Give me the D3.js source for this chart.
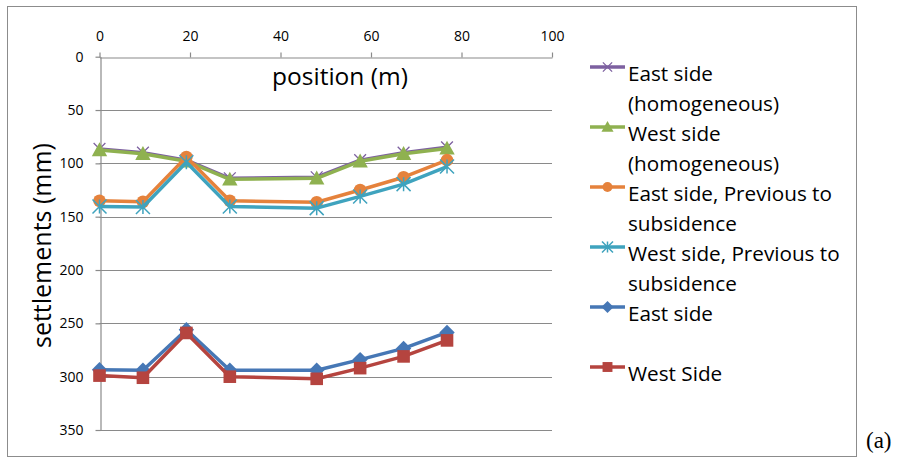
<!DOCTYPE html>
<html><head><meta charset="utf-8">
<script src="https://cdn.jsdelivr.net/npm/d3@7"></script>
<style>body{margin:0;background:#fff}svg{display:block}</style>
</head><body>
<script>
const positions = [0, 9.6, 19.2, 28.8, 48, 57.6, 67.2, 76.8];
const eastHomogeneous = [86.5, 90, 97, 114, 113, 97, 90, 85];
const westHomogeneous = [87.5, 91, 98, 115, 114, 98, 91, 86];
const eastPrevious = [135, 136, 94, 135, 136.5, 125, 113, 97];
const westPrevious = [140.5, 141, 99, 140.5, 142, 131, 119.5, 103];
const eastSide = [293.5, 294, 256, 294, 294, 284, 273.5, 258.5];
const westSide = [299, 301, 259, 300, 302, 292, 281, 266];
const xTicks = [0, 20, 40, 60, 80, 100];
const yTicks = [0, 50, 100, 150, 200, 250, 300, 350];
const seriesNames = [["East side", "(homogeneous)"], ["West side", "(homogeneous)"], ["East side, Previous to", "subsidence"], ["West side, Previous to", "subsidence"], ["East side"], ["West Side"]];
const seriesColors = ["#7D60A0", "#8FB150", "#E5823C", "#3FA3BE", "#4677B5", "#B5443F"];
const seriesMarkers = ["x", "triangle", "circle", "star", "diamond", "square"];
const seriesValues = [eastHomogeneous, westHomogeneous, eastPrevious, westPrevious, eastSide, westSide];

const W = 901, H = 461;
const svg = d3.select("body").append("svg").attr("width", W).attr("height", H);
const font = "'Open Sans', Lato, sans-serif";

svg.append("rect").attr("x", 7.5).attr("y", 6.5).attr("width", 849).attr("height", 450)
  .attr("fill", "#fff").attr("stroke", "#8c8c8c").attr("stroke-width", 1);

const x = d3.scaleLinear().domain([0, 100]).range([99.5, 552]);
const y = d3.scaleLinear().domain([0, 350]).range([56.7, 430]);

// gridlines
svg.append("g").selectAll("line").data(yTicks.slice(1)).join("line")
  .attr("x1", x(0)).attr("x2", x(100)).attr("y1", d => Math.round(y(d)) + 0.5).attr("y2", d => Math.round(y(d)) + 0.5)
  .attr("stroke", "#8a8a8a").attr("stroke-width", 1.2);

// top x axis
const xAxis = svg.append("g").attr("transform", `translate(0,${Math.round(y(0)) + 0.5})`)
  .call(d3.axisTop(x).tickValues(xTicks).tickSize(5).tickPadding(12).tickSizeOuter(0));
// left y axis
const yAxis = svg.append("g").attr("transform", `translate(${Math.round(x(0)) + 0.5},0)`)
  .call(d3.axisLeft(y).tickValues(yTicks).tickSize(5).tickPadding(12).tickSizeOuter(0));
[xAxis, yAxis].forEach(a => {
  a.select(".domain").attr("stroke", "#8a8a8a").attr("stroke-width", 1.2);
  a.selectAll(".tick line").attr("stroke", "#8a8a8a").attr("stroke-width", 1.2);
  a.selectAll("text").attr("font-family", font).attr("font-size", 14).attr("fill", "#000");
});

// axis titles
svg.append("text").attr("x", 340).attr("y", 85).attr("text-anchor", "middle")
  .attr("font-family", font).attr("font-size", 24.5).text("position (m)");
svg.append("text").attr("transform", "translate(51,245.5) rotate(-90)").attr("text-anchor", "middle")
  .attr("font-family", font).attr("font-size", 25).text("settlements (mm)");

function drawMarker(g, type, color, cx, cy, s) {
  if (type === "x") {
    const r = s * 0.42;
    g.append("path").attr("d", `M${cx - r},${cy - r}L${cx + r},${cy + r}M${cx - r},${cy + r}L${cx + r},${cy - r}`)
      .attr("stroke", color).attr("stroke-width", 1.3).attr("fill", "none");
  } else if (type === "star") {
    const r = s * 0.5;
    g.append("path").attr("d", `M${cx - r},${cy - r}L${cx + r},${cy + r}M${cx - r},${cy + r}L${cx + r},${cy - r}M${cx},${cy - r}L${cx},${cy + r}`)
      .attr("stroke", color).attr("stroke-width", 1.5).attr("fill", "none");
  } else if (type === "triangle") {
    const r = s * 0.55;
    g.append("path").attr("d", `M${cx},${cy - r}L${cx + r},${cy + r * 0.8}L${cx - r},${cy + r * 0.8}Z`).attr("fill", color);
  } else if (type === "circle") {
    g.append("circle").attr("cx", cx).attr("cy", cy).attr("r", s * 0.45).attr("fill", color);
  } else if (type === "diamond") {
    const r = s * 0.55;
    g.append("path").attr("d", `M${cx},${cy - r}L${cx + r},${cy}L${cx},${cy + r}L${cx - r},${cy}Z`).attr("fill", color);
  } else if (type === "square") {
    const r = s * 0.45;
    g.append("rect").attr("x", cx - r).attr("y", cy - r).attr("width", 2 * r).attr("height", 2 * r).attr("fill", color);
  }
}

const line = d3.line().x(d => x(d[0])).y(d => y(d[1]));
const plot = svg.append("g");
seriesValues.forEach((vals, i) => {
  const g = plot.append("g");
  const pts = positions.map((p, j) => [p, vals[j]]);
  g.append("path").attr("d", line(pts)).attr("fill", "none").attr("stroke", seriesColors[i])
    .attr("stroke-width", 3.5).attr("stroke-linejoin", "round");
  pts.forEach(p => drawMarker(g, seriesMarkers[i], seriesColors[i], x(p[0]), y(p[1]), 14));
});

// legend
const legendRows = [0, 2, 4, 6, 8, 10];
const legend = svg.append("g");
seriesNames.forEach((lines, i) => {
  const by = 74 + legendRows[i] * 30;
  const g = legend.append("g");
  g.append("line").attr("x1", 590).attr("x2", 625).attr("y1", by - 7).attr("y2", by - 7)
    .attr("stroke", seriesColors[i]).attr("stroke-width", 3.5);
  drawMarker(g, seriesMarkers[i], seriesColors[i], 607.5, by - 7, 11);
  lines.forEach((t, k) => {
    g.append("text").attr("x", 628).attr("y", by + k * 29.5 + 7)
      .attr("font-family", font).attr("font-size", 20.7).text(t);
  });
});

svg.append("text").attr("x", 866).attr("y", 448).attr("font-family", "'Liberation Serif', serif")
  .attr("font-size", 23).text("(a)");
</script>
</body></html>
